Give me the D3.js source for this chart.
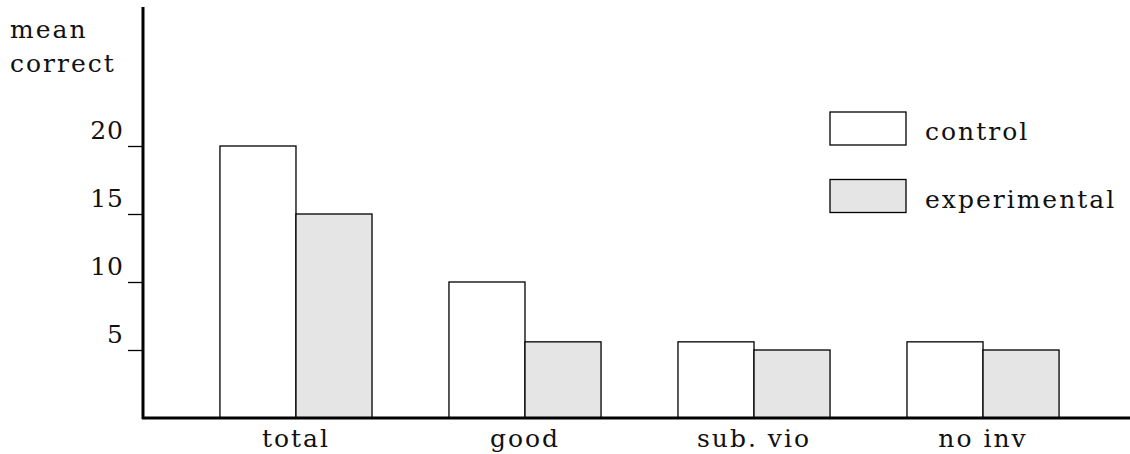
<!DOCTYPE html>
<html>
<head>
<meta charset="utf-8">
<script src="https://cdn.jsdelivr.net/npm/d3@7"></script>
<style>
  body { margin: 0; background: #fff; }
  svg text { font-family: "DejaVu Serif", "Liberation Serif", serif; font-size: 25px; letter-spacing: 2px; fill: #111; }
</style>
</head>
<body>
<svg id="chart"></svg>
<script>
const categories = ["total", "good", "sub. vio", "no inv"];
const seriesNames = ["control", "experimental"];
const controlValues = [20, 10, 5.6, 5.6];
const experimentalValues = [15, 5.6, 5, 5];
const yTicks = [5, 10, 15, 20];

const width = 1130;
const height = 454;
const fills = { control: "#ffffff", experimental: "#e5e5e5" };
const font = "'DejaVu Serif', 'Liberation Serif', serif";

const svg = d3.select("#chart")
  .attr("width", width)
  .attr("height", height)
  .attr("font-family", font);

const x = d3.scaleBand()
  .domain(categories)
  .range([143, 1136])
  .paddingInner(0.336)
  .paddingOuter(0.336);

const xSub = d3.scaleBand()
  .domain(seriesNames)
  .range([0, x.bandwidth()]);

const y = d3.scaleLinear().domain([0, 30]).range([418, 10]);

const rows = categories.map((c, i) => ({
  cat: c,
  values: [
    { series: "control", value: controlValues[i] },
    { series: "experimental", value: experimentalValues[i] }
  ]
}));

// bars
const groups = svg.append("g").selectAll("g")
  .data(rows)
  .enter()
  .append("g")
  .attr("transform", d => `translate(${x(d.cat)},0)`);

groups.selectAll("rect")
  .data(d => d.values)
  .enter()
  .append("rect")
  .attr("x", d => xSub(d.series))
  .attr("y", d => y(d.value))
  .attr("width", xSub.bandwidth())
  .attr("height", d => y(0) - y(d.value))
  .attr("fill", d => fills[d.series])
  .attr("stroke", "#000")
  .attr("stroke-width", 1.3);

// y axis
const yAxis = svg.append("g")
  .attr("transform", "translate(143,0)")
  .call(d3.axisLeft(y).tickValues(yTicks).tickSize(15).tickFormat(d3.format("d")));
yAxis.attr("font-family", font).attr("font-size", null);
yAxis.select(".domain").remove();
yAxis.selectAll(".tick line").attr("stroke", "#000").attr("stroke-width", 1.3);
yAxis.selectAll(".tick text")
  .attr("x", -19)
  .attr("dy", "-0.3em")
  .style("letter-spacing", "1px");

svg.append("line")
  .attr("x1", 143).attr("x2", 143)
  .attr("y1", 7).attr("y2", 419)
  .attr("stroke", "#000").attr("stroke-width", 3);

// x axis baseline and labels
const xAxis = svg.append("g")
  .attr("transform", "translate(0,418)")
  .call(d3.axisBottom(x).tickSize(0).tickPadding(0));
xAxis.attr("font-family", font).attr("font-size", null);
xAxis.select(".domain").remove();
xAxis.selectAll(".tick text")
  .attr("y", 29)
  .attr("dy", null);

svg.append("line")
  .attr("x1", 142).attr("x2", width)
  .attr("y1", 418).attr("y2", 418)
  .attr("stroke", "#000").attr("stroke-width", 3);

// y title
svg.append("text").attr("x", 10).attr("y", 38).text("mean");
svg.append("text").attr("x", 10).attr("y", 72).text("correct");

// legend
const legend = svg.append("g").selectAll("g")
  .data(seriesNames)
  .enter()
  .append("g")
  .attr("transform", (d, i) => `translate(830,${112 + i * 67.5})`);

legend.append("rect")
  .attr("width", 76)
  .attr("height", 33)
  .attr("fill", d => fills[d])
  .attr("stroke", "#000")
  .attr("stroke-width", 1.3);

legend.append("text")
  .attr("x", 95)
  .attr("y", 28)
  .text(d => d);
</script>
</body>
</html>
